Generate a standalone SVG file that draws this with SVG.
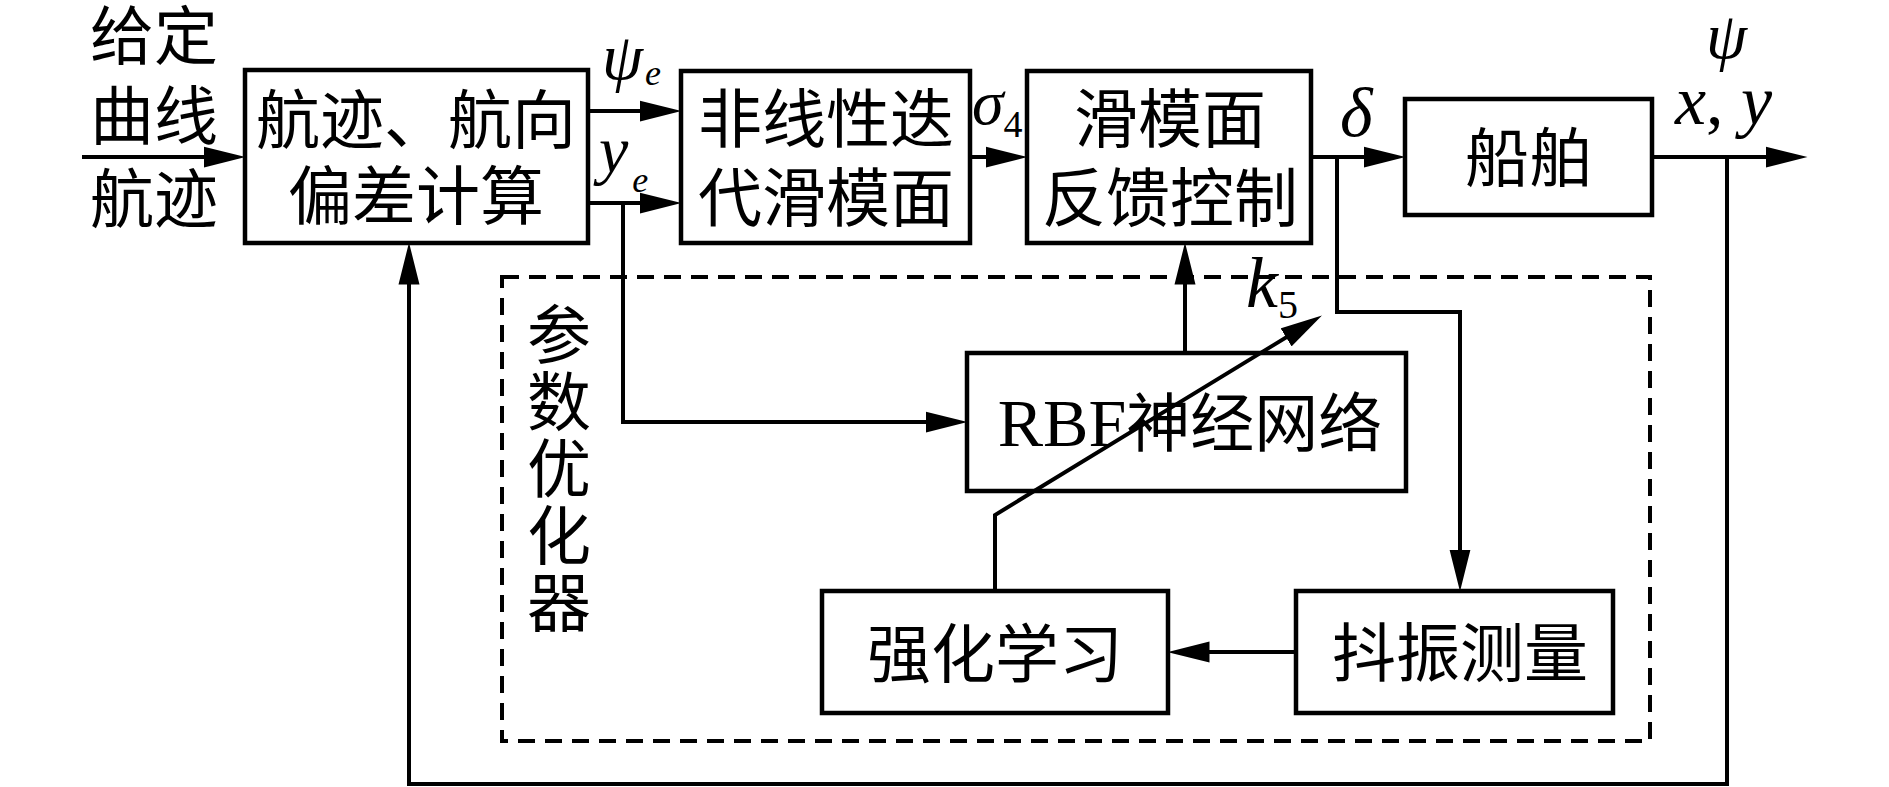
<svg xmlns="http://www.w3.org/2000/svg" width="1889" height="787" viewBox="0 0 1889 787">
<style>
.box{fill:#fff;stroke:#000;stroke-width:4.5}
.ln{fill:none;stroke:#000;stroke-width:4}
.dash{fill:none;stroke:#000;stroke-width:4;stroke-dasharray:17 10}
.cjm{font-family:"Noto Sans CJK SC","Noto Sans CJK JP",sans-serif;font-size:64px;fill:#000;text-anchor:middle}
.lat{font-family:"Liberation Serif",serif}
.m{font-family:"Liberation Serif",serif;font-style:italic;fill:#000}
</style>
<defs>
<marker id="ah" markerUnits="userSpaceOnUse" markerWidth="42" markerHeight="22" viewBox="0 0 40 20" refX="30" refY="10" orient="auto">
<path d="M0,0 L40,10 L0,20 z" fill="#000"/>
</marker>
</defs>
<rect width="1889" height="787" fill="#fff"/>

<g id="optimizer">
<rect class="dash" x="502" y="277" width="1148" height="464"/>
<text class="cjm"><tspan x="559" y="358">参</tspan><tspan x="559" y="425">数</tspan><tspan x="559" y="492">优</tspan><tspan x="559" y="559">化</tspan><tspan x="559" y="626">器</tspan></text>
</g>

<g id="input-label">
<text class="cjm" x="154" y="59">给定</text>
<text class="cjm" x="154" y="139">曲线</text>
<text class="cjm" x="154" y="222">航迹</text>
</g>

<g id="node-error">
<rect class="box" x="245" y="70" width="343" height="173"/>
<text class="cjm" x="416" y="143">航迹、航向</text>
<text class="cjm" x="416" y="219">偏差计算</text>
</g>

<g id="node-surface">
<rect class="box" x="681" y="71" width="289" height="172"/>
<text class="cjm" x="826" y="142">非线性迭</text>
<text class="cjm" x="826" y="221">代滑模面</text>
</g>

<g id="node-control">
<rect class="box" x="1027" y="71" width="284" height="172"/>
<text class="cjm" x="1170" y="142">滑模面</text>
<text class="cjm" x="1170" y="221">反馈控制</text>
</g>

<g id="node-ship">
<rect class="box" x="1405" y="99" width="247" height="116"/>
<text class="cjm" x="1529" y="181">船舶</text>
</g>

<g id="node-rbf">
<rect class="box" x="967" y="353" width="439" height="138"/>
<text class="cjm" x="1190" y="446"><tspan class="lat" font-size="68">RBF</tspan>神经网络</text>
</g>

<g id="node-rl">
<rect class="box" x="822" y="591" width="346" height="122"/>
<text class="cjm" x="995" y="677">强化学习</text>
</g>

<g id="node-chatter">
<rect class="box" x="1296" y="591" width="317" height="122"/>
<text class="cjm" x="1460" y="676">抖振测量</text>
</g>

<g id="connectors">
<line class="ln" x1="82" y1="157" x2="235" y2="157" marker-end="url(#ah)"/>
<line class="ln" x1="588" y1="111" x2="671" y2="111" marker-end="url(#ah)"/>
<line class="ln" x1="588" y1="203" x2="671" y2="203" marker-end="url(#ah)"/>
<polyline class="ln" points="623,203 623,422 957,422" marker-end="url(#ah)"/>
<line class="ln" x1="970" y1="157" x2="1017" y2="157" marker-end="url(#ah)"/>
<line class="ln" x1="1311" y1="157" x2="1395" y2="157" marker-end="url(#ah)"/>
<line class="ln" x1="1652" y1="157" x2="1797" y2="157" marker-end="url(#ah)"/>
<polyline class="ln" points="1337,157 1337,312 1460,312 1460,581" marker-end="url(#ah)"/>
<line class="ln" x1="1296" y1="652" x2="1178" y2="652" marker-end="url(#ah)"/>
<polyline class="ln" points="995,591 995,515 1313,321" marker-end="url(#ah)"/>
<line class="ln" x1="1185" y1="353" x2="1185" y2="253" marker-end="url(#ah)"/>
<polyline class="ln" points="1727,157 1727,784 409,784 409,253" marker-end="url(#ah)"/>
</g>

<g id="labels">
<text class="m" x="602" y="79" font-size="66">ψ<tspan font-size="36" dy="6" dx="2">e</tspan></text>
<text class="m" x="599" y="172" font-size="66">y<tspan font-size="36" dy="20" dx="4">e</tspan></text>
<text class="m" x="972" y="124" font-size="64">σ<tspan font-style="normal" font-size="38" dy="13">4</tspan></text>
<text class="m" x="1340" y="136" font-size="70">δ</text>
<text class="m" x="1706" y="58" font-size="66">ψ</text>
<text class="m" x="1675" y="124" font-size="70">x<tspan font-style="normal">,</tspan> y</text>
<text class="m" x="1246" y="307" font-size="72">k<tspan font-style="normal" font-size="40" dy="11">5</tspan></text>
</g>
</svg>
